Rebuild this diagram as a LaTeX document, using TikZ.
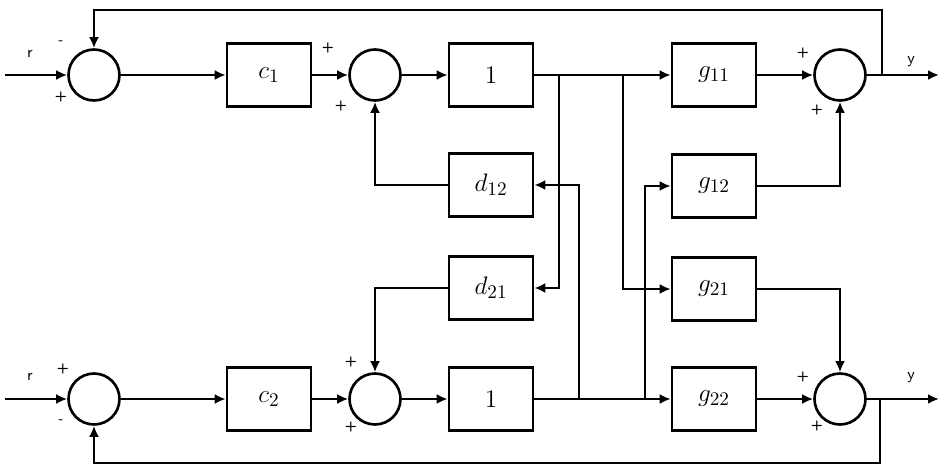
\documentclass[tikz,border=0pt]{standalone}
\usepackage{amsmath}
\usetikzlibrary{arrows.meta,positioning}

\begin{document}
\begin{tikzpicture}[
  x=0.02cm, y=-0.02cm, font=\sffamily\small,
  blk/.style={rectangle,draw,line width=1.5pt,minimum width=1.68cm,
              minimum height=1.25cm,font=\fontsize{15}{17}\selectfont},
  sumc/.style={circle,draw,line width=1.5pt,minimum size=1.02cm,inner sep=0pt},
  sgn/.style={inner sep=0pt,font=\sffamily\bfseries\footnotesize},
  arr/.style={-{Latex[length=2.2mm,width=2mm]},line width=1.5pt}]
\useasboundingbox (0,0) rectangle (947,473);
% upper loop
\node[sumc] (s1) at (94,75) {};
\node[blk] (c1) at (269,75) {$c_1$};
\node[sumc] (s2) at (375,75) {};
\node[blk] (p1) at (491,75) {$1$};
\node[blk] (g11) at (714,75) {$g_{11}$};
\node[sumc] (s3) at (840,75) {};
% cross blocks
\node[blk] (d12) at (491,185) {$d_{12}$};
\node[blk] (g12) at (714,186) {$g_{12}$};
\node[blk] (d21) at (491,288) {$d_{21}$};
\node[blk] (g21) at (714,289) {$g_{21}$};
% lower loop
\node[sumc] (s4) at (94,399) {};
\node[blk] (c2) at (269,399) {$c_2$};
\node[sumc] (s5) at (375,399) {};
\node[blk] (p2) at (491,399) {$1$};
\node[blk] (g22) at (714,399) {$g_{22}$};
\node[sumc] (s6) at (840,399) {};
\coordinate (in1) at (5,75);  \coordinate (out1) at (939,75);
\coordinate (in2) at (5,399); \coordinate (out2) at (939,399);
\coordinate (fb1) at (882,75); \coordinate (fb2) at (880,399);
\coordinate (b1) at (559,75);  \coordinate (b2) at (623,75);
\coordinate (b3) at (579,399); \coordinate (b4) at (645,399);
\draw[arr] (in1)--(s1); \draw[arr] (s1)--(c1); \draw[arr] (c1)--(s2);
\draw[arr] (s2)--(p1); \draw[arr] (p1)--(g11); \draw[arr] (g11)--(s3);
\draw[arr] (s3)--(out1);
\draw[arr] (in2)--(s4); \draw[arr] (s4)--(c2); \draw[arr] (c2)--(s5);
\draw[arr] (s5)--(p2); \draw[arr] (p2)--(g22); \draw[arr] (g22)--(s6);
\draw[arr] (s6)--(out2);
\draw[arr] (fb1) -- ++(0,-65) -| (s1.north);
\draw[arr] (fb2) -- ++(0,64) -| (s4.south);
\draw[arr] (b1) |- (d21.east); \draw[arr] (b2) |- (g21.west);
\draw[arr] (b3) |- (d12.east); \draw[arr] (b4) |- (g12.west);
\draw[arr] (d12.west) -| (s2.south); \draw[arr] (d21.west) -| (s5.north);
\draw[arr] (g12.east) -| (s3.south); \draw[arr] (g21.east) -| (s6.north);
% signs and signal names
\foreach \px/\py [count=\i] in {61/97,328/48,341/106,803/53,817/110,
                                 63/369,351/362,351/427,803/377,817/426}
  {\node[sgn] (plus\i) at (\px,\py) {+};}
\node[sgn] (minus1) at (61,43) {-};
\node[sgn] (minus2) at (61,422) {-};
\node (r1) at (30,54) {r};  \node (r2) at (30,377) {r};
\node (y1) at (911,62) {y}; \node (y2) at (911,378) {y};
\end{tikzpicture}
\end{document}
